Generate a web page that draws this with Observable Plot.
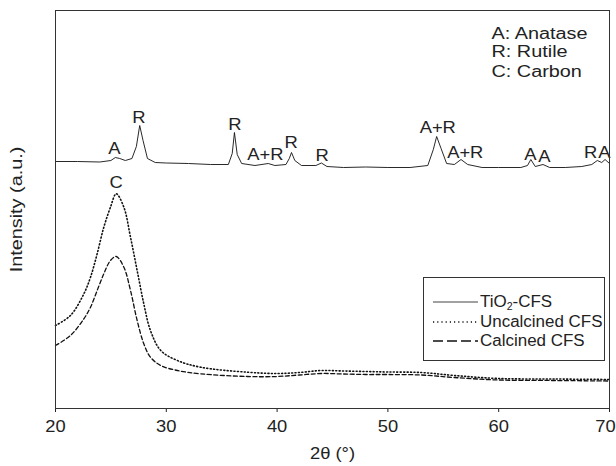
<!DOCTYPE html>
<html>
<head>
<meta charset="utf-8">
<script src="https://cdn.jsdelivr.net/npm/d3@7"></script>
<script src="https://cdn.jsdelivr.net/npm/@observablehq/plot@0.6"></script>
<style>
  html, body { margin: 0; padding: 0; background: #fff; }
  #wrap { position: relative; width: 616px; height: 466px; font-family: "Liberation Sans", Arial, sans-serif; }
  #legend { position: absolute; left: 423px; top: 277px; width: 182px; height: 84px; border: 1px solid #333; box-sizing: border-box; background: #fff; }
  .row { position: absolute; left: 8px; height: 20px; display: flex; align-items: center; font-size: 16px; color: #222; white-space: nowrap; }
  .row svg { margin-right: 1px; }
  .row span { display: inline-block; transform: scaleX(1.06); transform-origin: left center; }
  sub { font-size: 10px; vertical-align: -3px; }
</style>
</head>
<body>
<div id="wrap"></div>
<script>
// ---- data ----
const xTicks = [20, 30, 40, 50, 60, 70];

// TiO2-CFS pattern (2θ, intensity a.u.)
const tio2Theta = [20,22,24,25,25.4,25.8,26.3,26.9,27.3,27.6,27.9,28.3,29,30,32,34,35.6,35.95,36.15,36.4,36.8,38,39.2,39.8,40.8,41.1,41.3,41.6,42.2,43.5,44,44.5,46,48,50,52,53.6,54.1,54.4,54.8,55.3,56,56.6,57.2,58.5,60,62,62.6,62.9,63.3,64,64.6,66,67.5,68.4,68.9,69.3,69.6,70];
const tio2Int = [247,247,246.5,248,251,250,248,250,262,283,268,250,246,245.5,245,244,244,255,276,254,245,243,245,243,244,250,256,248,243,243,245.5,242,241,241.5,241,241,243,259,272,260,245,244,249,244,241,241,241,243,249,242,244,241,241,242,244,248,246,249,245];

// Uncalcined and calcined CFS patterns
const cfsTheta = [20,21.35,22.56,23.16,23.76,24.36,24.96,25.48,26.17,26.77,27.37,27.97,28.57,29.5,31,33.1,37.3,40,42,44,46,48,50,53,56,60,65,70];
const uncalcInt = [83,93,114.7,131.3,154.7,181.3,201.3,214.7,201.3,171.3,138,104.7,78,58,48,41.3,36.3,35,36,38,37.5,37,36.5,36,33,30,29.5,29];
const calcInt = [63,73,89.7,101.3,118,134.7,148,152,141.3,118,88,64.7,51.3,43,38,34.7,32,32,33.5,35,34.5,34,34,33.5,31,28.5,28,27.5];

// Peak labels
const peakLabels = ["A","R","R","A+R","R","R","A+R","A+R","A","A","R","A","C"];
const peakTheta = [25.32,27.52,36.18,38.95,41.27,44.07,54.5,56.98,62.87,64.13,68.29,69.55,25.48];
const peakPos = [260,291,284,253.5,266.3,253,280.5,256.3,254,252,256,256,226.3];

// Phase key text
const phaseNotes = ["A: Anatase", "R: Rutile", "C: Carbon"];
const phaseTheta = [59.35, 59.35, 59.35];
const phasePos = [375, 356.5, 337];

// Series names
const seriesNames = ["TiO2-CFS", "Uncalcined CFS", "Calcined CFS"];

// ---- build tables ----
const tio2 = tio2Theta.map((x, i) => ({x, y: tio2Int[i]}));
const uncalc = cfsTheta.map((x, i) => ({x, y: uncalcInt[i]}));
const calc = cfsTheta.map((x, i) => ({x, y: calcInt[i]}));
const peaks = peakLabels.map((t, i) => ({t, x: peakTheta[i], y: peakPos[i]}));
const notes = phaseNotes.map((t, i) => ({t, x: phaseTheta[i], y: phasePos[i]}));

const styles = [
  {stroke: "#111", strokeWidth: 0.9, dash: null},
  {stroke: "#111", strokeWidth: 1.6, dash: "1,2.4"},
  {stroke: "#111", strokeWidth: 1.3, dash: "4,2.5"}
];

const chart = Plot.plot({
  width: 616,
  height: 466,
  marginLeft: 55,
  marginRight: 7,
  marginTop: 10,
  marginBottom: 58,
  style: {fontFamily: "'Liberation Sans', Arial, sans-serif", fontSize: "17px", color: "#222", background: "#fff"},
  x: {domain: [20, 70]},
  y: {domain: [0, 398]},
  marks: [
    Plot.axisX({ticks: xTicks, tickSize: 4, tickPadding: 7, tickFormat: d => String(d), label: "2θ (°)", labelAnchor: "center", labelArrow: "none", labelOffset: 50, fontSize: 17}),
    Plot.axisY({ticks: [], label: "Intensity (a.u.)", labelAnchor: "center", labelArrow: "none", labelOffset: 45, fontSize: 16}),
    Plot.line(tio2, {x: "x", y: "y", stroke: styles[0].stroke, strokeWidth: styles[0].strokeWidth}),
    Plot.line(uncalc, {x: "x", y: "y", curve: "catmull-rom", stroke: styles[1].stroke, strokeWidth: styles[1].strokeWidth, strokeDasharray: styles[1].dash}),
    Plot.line(calc, {x: "x", y: "y", curve: "catmull-rom", stroke: styles[2].stroke, strokeWidth: styles[2].strokeWidth, strokeDasharray: styles[2].dash}),
    Plot.text(peaks, {x: "x", y: "y", text: "t", fontSize: 17, fill: "#222"}),
    Plot.text(notes, {x: "x", y: "y", text: "t", textAnchor: "start", fontSize: 16, fill: "#222"}),
    Plot.frame({stroke: "#333", strokeWidth: 1})
  ]
});

const wrap = document.getElementById("wrap");
wrap.append(chart);

// Legend (drawn over the plot, upper right of the lower curves)
const legend = document.createElement("div");
legend.id = "legend";
const rowTops = [14, 34, 53];
seriesNames.forEach((name, i) => {
  const row = document.createElement("div");
  row.className = "row";
  row.style.top = rowTops[i] + "px";
  const s = styles[i];
  const dash = i === 2 ? "10,4" : (i === 1 ? "1.2,3" : null);
  row.innerHTML = `<svg width="47" height="10"><line x1="1" y1="5" x2="46" y2="5" stroke="${s.stroke}" stroke-width="${i === 0 ? 0.8 : 1.5}" ${dash ? `stroke-dasharray="${dash}"` : ""}/></svg>`;
  const span = document.createElement("span");
  span.innerHTML = name.replace("TiO2", "TiO<sub>2</sub>");
  row.append(span);
  legend.append(row);
});
wrap.append(legend);

// Horizontal text proportions of the original figure
const wide = new Set(phaseNotes.concat(["Intensity (a.u.)"]));
chart.querySelectorAll("text").forEach(t => {
  if (t.querySelector("tspan")) return;
  const txt = t.textContent;
  const f = wide.has(txt) ? 1.24 : 1.08;
  const L = t.getComputedTextLength();
  if (L > 0) {
    t.setAttribute("textLength", (L * f).toFixed(1));
    t.setAttribute("lengthAdjust", "spacingAndGlyphs");
  }
  if (txt === String(xTicks[xTicks.length - 1])) t.setAttribute("dx", "-4");
});
</script>
</body>
</html>
